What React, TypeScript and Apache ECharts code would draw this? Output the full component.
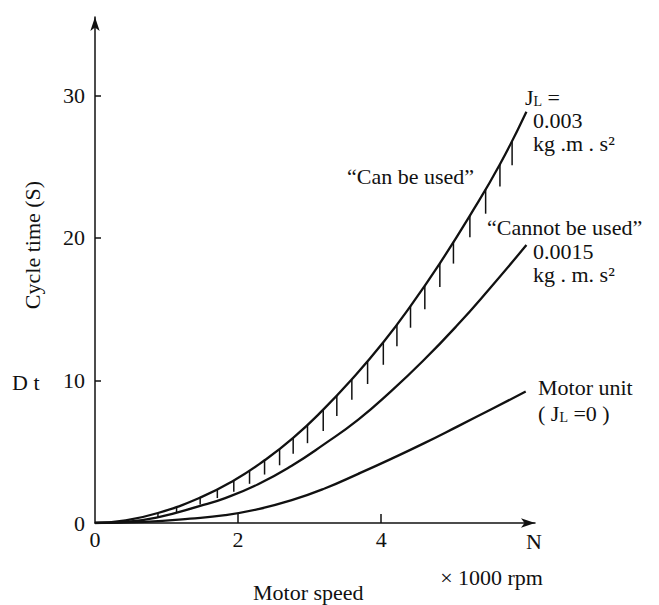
import React, { useEffect, useRef } from 'react';
import * as echarts from 'echarts';

// Tick values
const xLabelValues = [0, 2, 4];
const xTickValues = [2, 4];
const yLabelValues = [0, 10, 20, 30];

// Upper curve J_L = 0.003 kg.m.s^2
const topX = [0, 0.4, 0.88, 1.47, 1.94, 2.37, 2.77, 3.19, 3.59, 4.03, 4.41, 4.82, 5.24, 5.66, 6.03];
const topY = [0, 0.17, 0.7, 1.78, 2.98, 4.4, 5.97, 7.95, 10.08, 12.68, 15.22, 18.22, 21.57, 25.17, 28.85];

// Middle curve J_L = 0.0015 kg.m.s^2
const midX = [0, 0.4, 0.86, 1.47, 1.82, 2.28, 2.75, 3.21, 3.68, 4.14, 4.6, 5.05, 5.5, 6.03];
const midY = [0, 0.08, 0.38, 1.2, 1.75, 2.72, 4.02, 5.55, 7.25, 9.25, 11.45, 13.8, 16.35, 19.5];

// Motor unit (J_L = 0)
const botX = [0, 0.7, 1.33, 1.82, 2.28, 2.75, 3.21, 3.68, 4.14, 4.61, 5.07, 5.54, 6.02];
const botY = [0, 0.08, 0.3, 0.55, 0.97, 1.6, 2.42, 3.45, 4.5, 5.62, 6.78, 7.98, 9.22];

// Hatch marks under the upper curve
const hatchX = [0.88, 1.14, 1.47, 1.71, 1.94, 2.16, 2.37, 2.58, 2.77, 2.97, 3.19, 3.38, 3.59, 3.81, 4.03, 4.22, 4.41, 4.61, 4.82, 5.01, 5.24, 5.46, 5.66, 5.83];
const hatchTop = [0.7, 1.07, 1.78, 2.36, 2.98, 3.68, 4.4, 5.19, 5.97, 6.88, 7.95, 8.93, 10.08, 11.33, 12.68, 13.93, 15.22, 16.67, 18.22, 19.73, 21.57, 23.42, 25.17, 26.78];
const hatchBottom = [0.4, 0.75, 1.3, 1.75, 2.2, 2.75, 3.4, 4.05, 4.85, 5.6, 6.45, 7.5, 8.65, 9.75, 11.1, 12.4, 13.7, 15.0, 16.55, 18.2, 20.05, 21.7, 23.6, 25.1];

const FONT = '"Liberation Serif", "Times New Roman", serif';
const INK = '#111';

const pairs = (xs: number[], ys: number[]) => xs.map((x, i) => [x, ys[i]]);

function txt(text: string, x: number, y: number, align = 'left', extra: any = {}) {
  return {
    type: 'text',
    x,
    y,
    silent: true,
    ...extra,
    style: {
      text,
      fill: INK,
      fontFamily: FONT,
      fontSize: 22,
      textAlign: align,
      align,
      textVerticalAlign: 'middle',
      verticalAlign: 'middle',
      ...(extra.style || {}),
    },
  };
}

export default function App() {
  const ref = useRef<HTMLDivElement>(null);

  useEffect(() => {
    document.body.style.margin = '0';
    if (!ref.current) return;
    const chart = echarts.init(ref.current, null, { renderer: 'svg' });
    const lineStyle = { color: INK, width: 2.3 };
    const subRich = {
      a: { fontFamily: FONT, fontSize: 22, fill: INK, color: INK },
      b: { fontFamily: FONT, fontSize: 14, fill: INK, color: INK, verticalAlign: 'bottom', lineHeight: 14 },
    };
    chart.setOption({
      animation: false,
      backgroundColor: '#fff',
      grid: { left: 95, right: 124, top: 17, bottom: 82, containLabel: false },
      xAxis: {
        type: 'value',
        min: 0,
        max: 6.15,
        interval: 2,
        axisLine: {
          show: true,
          symbol: ['none', 'arrow'],
          symbolSize: [7, 14],
          lineStyle: { color: INK, width: 1.5 },
        },
        axisTick: { show: true, inside: true, length: 9, customValues: xTickValues, lineStyle: { color: INK, width: 1.5 } },
        axisLabel: {
          show: true,
          customValues: xLabelValues,
          margin: 5,
          color: INK,
          fontFamily: FONT,
          fontSize: 22,
        },
        splitLine: { show: false },
      },
      yAxis: {
        type: 'value',
        min: 0,
        max: 35.5,
        interval: 10,
        axisLine: {
          show: true,
          symbol: ['none', 'arrow'],
          symbolSize: [7, 14],
          lineStyle: { color: INK, width: 1.5 },
        },
        axisTick: { show: true, inside: true, length: 6, customValues: yLabelValues, lineStyle: { color: INK, width: 1.5 } },
        axisLabel: { show: true, customValues: yLabelValues, margin: 10, color: INK, fontFamily: FONT, fontSize: 22 },
        splitLine: { show: false },
      },
      series: [
        {
          type: 'line',
          name: 'J_L = 0.003',
          data: pairs(topX, topY),
          smooth: 0.5,
          showSymbol: false,
          lineStyle,
          silent: true,
        },
        {
          type: 'line',
          name: 'J_L = 0.0015',
          data: pairs(midX, midY),
          smooth: 0.5,
          showSymbol: false,
          lineStyle,
          silent: true,
        },
        {
          type: 'line',
          name: 'Motor unit',
          data: pairs(botX, botY),
          smooth: 0.5,
          showSymbol: false,
          lineStyle,
          silent: true,
        },
        {
          type: 'custom',
          name: 'hatch',
          silent: true,
          encode: { x: 0, y: [1, 2] },
          data: hatchX.map((x, i) => [x, hatchTop[i], hatchBottom[i]]),
          renderItem: (params: any, api: any) => {
            const p1 = api.coord([api.value(0), api.value(1)]);
            const p2 = api.coord([api.value(0), api.value(2)]);
            return {
              type: 'line',
              shape: { x1: p1[0], y1: p1[1], x2: p2[0], y2: p2[1] },
              style: { stroke: INK, lineWidth: 1.5 },
            };
          },
        },
      ],
      graphic: [
        txt('Cycle time (S)', 32, 245, 'center', { rotation: Math.PI / 2 }),
        txt('D t', 12, 382, 'left'),
        txt('\u201CCan be used\u201D', 347, 176, 'left'),
        txt('\u201CCannot be used\u201D', 487, 227, 'left'),
        {
          type: 'text',
          x: 525,
          y: 97,
          silent: true,
          style: {
            text: '{a|J}{b|L}{a| =}',
            rich: subRich,
            fill: INK,
            fontFamily: FONT,
            fontSize: 22,
            textVerticalAlign: 'middle',
            verticalAlign: 'middle',
          },
        },
        txt('0.003', 533, 120, 'left'),
        txt('kg .m . s\u00B2', 533, 143, 'left'),
        txt('0.0015', 533, 251, 'left'),
        txt('kg . m. s\u00B2', 533, 274, 'left'),
        txt('Motor unit', 538, 387, 'left'),
        {
          type: 'text',
          x: 538,
          y: 413,
          silent: true,
          style: {
            text: '{a|( J}{b|L}{a| =0 )}',
            rich: subRich,
            fill: INK,
            fontFamily: FONT,
            fontSize: 22,
            textVerticalAlign: 'middle',
            verticalAlign: 'middle',
          },
        },
        txt('N', 534, 541, 'center'),
        txt('\u00D7 1000 rpm', 543, 577, 'right'),
        txt('Motor speed', 253, 592, 'left'),
      ],
    });
    return () => chart.dispose();
  }, []);

  return <div ref={ref} style={{ width: 659, height: 605 }} />;
}
